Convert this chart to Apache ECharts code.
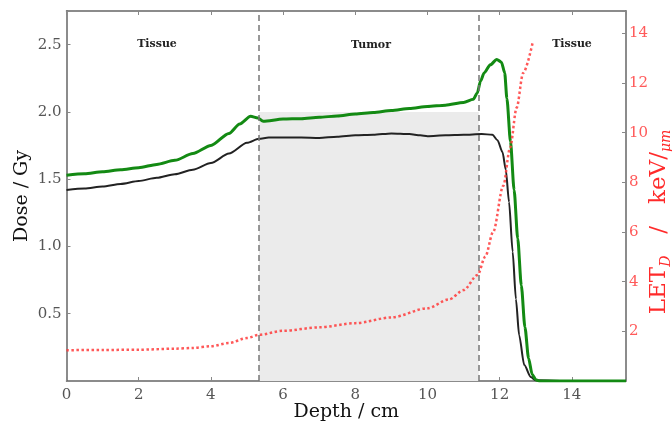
<!DOCTYPE html>
<html>
<head>
<meta charset="utf-8">
<script src="https://cdn.jsdelivr.net/npm/echarts@6/dist/echarts.min.js"></script>
<style>html,body{margin:0;padding:0;background:#fff}#c{width:672px;height:427px}</style>
</head>
<body>
<div id="c"></div>
<script>
// Physical dose (black)
var doseDepth = [0,0.5,1,1.5,2,2.5,3,3.5,4,4.5,5,5.33,5.6,6,6.5,7,7.5,8,8.5,9,9.5,9.8,10,10.5,11,11.5,11.8,11.94,12.08,12.17,12.26,12.36,12.45,12.54,12.68,12.86,13.0,14,15.5];
var doseValues = [1.42,1.43,1.445,1.465,1.487,1.51,1.537,1.57,1.62,1.69,1.77,1.80,1.81,1.81,1.81,1.807,1.815,1.826,1.83,1.84,1.835,1.826,1.82,1.826,1.83,1.836,1.83,1.79,1.70,1.57,1.33,0.96,0.61,0.34,0.12,0.03,0.005,0,0];
// Biological dose (green)
var bioDepth = [0,0.5,1,1.5,2,2.5,3,3.5,4,4.5,4.8,5.1,5.3,5.45,6,6.5,7,7.5,8,8.5,9,9.5,10,10.5,11,11.27,11.38,11.47,11.57,11.74,11.92,12.05,12.14,12.2,12.3,12.4,12.5,12.6,12.7,12.8,12.9,13.0,13.1,15.5];
var bioValues = [1.53,1.54,1.555,1.57,1.585,1.61,1.64,1.69,1.75,1.84,1.91,1.967,1.955,1.93,1.947,1.95,1.96,1.97,1.984,1.995,2.01,2.025,2.04,2.05,2.07,2.094,2.14,2.23,2.29,2.35,2.39,2.37,2.29,2.10,1.78,1.42,1.06,0.71,0.40,0.17,0.05,0.01,0,0];
// LET_D (red, right axis)
var letDepth = [0,1,2,3,3.5,4,4.5,5,5.33,6,7,8,9,10,10.6,11,11.39,11.6,11.82,12.1,12.29,12.47,12.65,12.91];
var letValues = [1.24,1.25,1.26,1.3,1.33,1.4,1.53,1.73,1.86,2.02,2.16,2.33,2.56,2.93,3.29,3.66,4.27,5.0,6.0,7.86,9.4,11.0,12.4,13.6];
// Regions
var tumorStart = 5.33, tumorEnd = 11.42, tumorShadeTop = 2.0;
var regionLabels = ['Tissue','Tumor','Tissue'];
// Tick labels
var xTicks = [0,2,4,6,8,10,12,14];
var doseTicks = [0.5,1.0,1.5,2.0,2.5];
var letTicks = [2,4,6,8,10,12,14];

var X_MAX = 15.5, DOSE_MAX = 2.75, LET_MAX = 14.9;

function zip(a,b){return a.map(function(v,i){return [v,b[i]];});}
function inList(list,v){for(var i=0;i<list.length;i++){if(Math.abs(list[i]-v)<1e-6)return true;}return false;}

var serif = 'DejaVu Serif';
var lineStyleAxis = {color:'#666',width:1.5};
var tickStyle = {show:true,inside:true,length:4,lineStyle:{color:'#888',width:1}};

var chart = echarts.init(document.getElementById('c'));
var option = {
  animation:false,
  backgroundColor:'#fff',
  grid:{left:66.5,right:46,top:11,bottom:44},
  xAxis:[{
    type:'value',min:0,max:X_MAX,interval:2,position:'bottom',
    name:'Depth / cm',nameLocation:'middle',nameGap:22,nameMoveOverlap:false,
    nameTextStyle:{fontFamily:serif,fontSize:19,color:'#111'},
    axisLine:{show:true,onZero:false,lineStyle:lineStyleAxis},
    axisTick:tickStyle,
    axisLabel:{fontFamily:serif,fontSize:15,color:'#555',margin:7,
      formatter:function(v){return inList(xTicks,v)?String(v):'';}},
    splitLine:{show:false}
  },{
    type:'value',min:0,max:X_MAX,interval:2,position:'top',
    axisLine:{show:true,onZero:false,lineStyle:lineStyleAxis},
    axisTick:tickStyle,
    axisLabel:{show:false},splitLine:{show:false}
  }],
  yAxis:[{
    type:'value',min:0,max:DOSE_MAX,interval:0.5,position:'left',
    name:'Dose / Gy',nameLocation:'middle',nameGap:35,nameRotate:90,nameMoveOverlap:false,
    nameTextStyle:{fontFamily:serif,fontSize:19,color:'#111'},
    axisLine:{show:true,onZero:false,lineStyle:lineStyleAxis},
    axisTick:tickStyle,
    axisLabel:{fontFamily:serif,fontSize:15,color:'#555',margin:5,
      formatter:function(v){return inList(doseTicks,v)?v.toFixed(1):'';}},
    splitLine:{show:false}
  },{
    type:'value',min:0,max:LET_MAX,interval:2,position:'right',
    axisLine:{show:true,onZero:false,lineStyle:lineStyleAxis},
    axisTick:tickStyle,
    axisLabel:{fontFamily:serif,fontSize:15,color:'#ff5a5a',margin:3,
      formatter:function(v){return inList(letTicks,v)?String(v):'';}},
    splitLine:{show:false}
  }],
  series:[{
    type:'line',name:'Dose',xAxisIndex:0,yAxisIndex:0,data:zip(doseDepth,doseValues),
    showSymbol:false,smooth:0.25,smoothMonotone:'x',
    lineStyle:{color:'#222',width:2},z:3,
    markArea:{silent:true,itemStyle:{color:'#ebebeb'},
      data:[[{xAxis:tumorStart,yAxis:0},{xAxis:tumorEnd,yAxis:tumorShadeTop}]]},
    markLine:{silent:true,symbol:['none','none'],label:{show:false},
      lineStyle:{color:'#777',type:[6,4],width:1.5},
      data:[{xAxis:tumorStart},{xAxis:tumorEnd}]}
  },{
    type:'line',name:'Bio',xAxisIndex:0,yAxisIndex:0,data:zip(bioDepth,bioValues),
    showSymbol:false,smooth:0.25,smoothMonotone:'x',
    lineStyle:{color:'#138a13',width:3},z:4
  },{
    type:'line',name:'LET',xAxisIndex:0,yAxisIndex:1,data:zip(letDepth,letValues),
    showSymbol:false,smooth:0.3,smoothMonotone:'x',
    lineStyle:{color:'#ff3b3b',width:2.5,type:[2.5,2.5],opacity:0.85},z:5
  }],
  graphic:[
    {type:'text',style:{text:regionLabels[0],font:'bold 11px "DejaVu Serif"',fill:'#222',textAlign:'center',textVerticalAlign:'middle',x:157,y:44}},
    {type:'text',style:{text:regionLabels[1],font:'bold 11px "DejaVu Serif"',fill:'#222',textAlign:'center',textVerticalAlign:'middle',x:371,y:45}},
    {type:'text',style:{text:regionLabels[2],font:'bold 11px "DejaVu Serif"',fill:'#222',textAlign:'center',textVerticalAlign:'middle',x:572,y:44}},
    {type:'text',x:659,y:222,rotation:Math.PI/2,
     style:{text:'{a|LET}{s|D}{a|   /   keV/}{s|μm}',textAlign:'center',textVerticalAlign:'middle',
       rich:{a:{fontFamily:serif,fontSize:23,fill:'#ff2a2a',lineHeight:28,verticalAlign:'middle'},
             s:{fontFamily:serif,fontSize:14,fontStyle:'italic',fill:'#ff2a2a',lineHeight:12,verticalAlign:'bottom'}}}}
  ]
};
chart.setOption(option);
</script>
</body>
</html>
